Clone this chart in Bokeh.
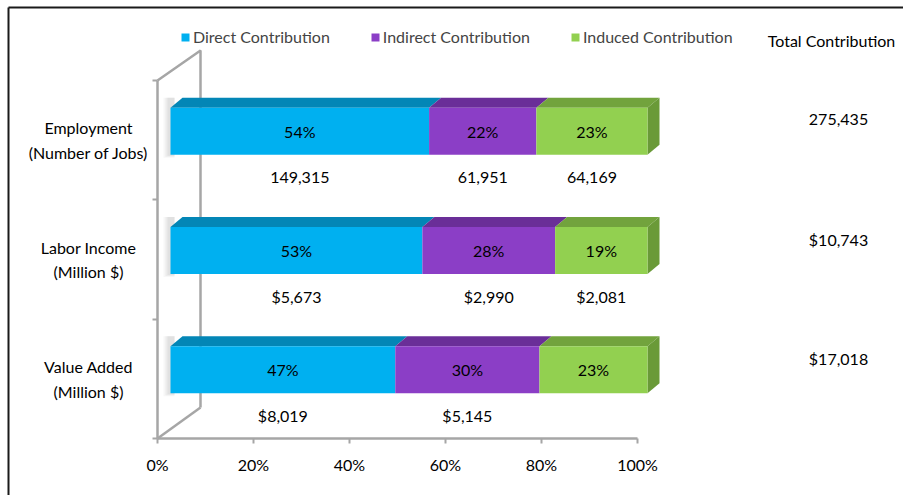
from bokeh.plotting import figure
from bokeh.models import (Range1d, LinearAxis, FixedTicker, Legend, LegendItem,
                          NumeralTickFormatter)
from bokeh.core.properties import value
from bokeh.embed import file_html
from bokeh.resources import INLINE

# ---------------- data ----------------
categories = ["Employment\n(Number of Jobs)", "Labor Income\n(Million $)", "Value Added\n(Million $)"]
series = ["Direct Contribution", "Indirect Contribution", "Induced Contribution"]
direct = [149315, 5673, 8019]
indirect = [61951, 2990, 5145]
induced = [64169, 2081, 3854]
direct_labels = ["149,315", "$5,673", "$8,019"]
indirect_labels = ["61,951", "$2,990", "$5,145"]
induced_labels = ["64,169", "$2,081", ""]
total_labels = ["275,435", "$10,743", "$17,018"]
total_header = "Total Contribution"
x_ticks = [0, 0.2, 0.4, 0.6, 0.8, 1.0]

# ---------------- styles ----------------
FONT = "Lato"
FS = "16px"
W, H = 903, 495
X0, SX = 157, 480.0        # pixel of 0% and pixels per 100%
Y0, SY = 438, 119.33       # pixel of band bottom and pixels per category band
front_col = ["#00B0F0", "#8B3EC6", "#92D050"]
top_col = ["#0386B6", "#6A2E98", "#72A33D"]
side_col = ["#0386B6", "#6A2E98", "#6A9A38"]
GRAY = "#A6A6A6"

def px(xp):
    return (xp - X0) / SX

def py(yp):
    return (Y0 - yp) / SY

p = figure(width=W, height=H, output_backend="svg", toolbar_location=None,
           x_range=Range1d(px(0), px(W)), y_range=Range1d(py(H), py(0)),
           min_border=0, x_axis_type=None, y_axis_type=None)
p.outline_line_color = None
p.xgrid.visible = False
p.ygrid.visible = False
p.background_fill_color = "white"
p.border_fill_color = "white"

# ---------- axes ----------
xa = LinearAxis(ticker=FixedTicker(ticks=x_ticks), formatter=NumeralTickFormatter(format="0%"))
xa.fixed_location = 0
xa.bounds = (0, 1)
ya = LinearAxis(ticker=FixedTicker(ticks=[0, 1, 2, 3]))
ya.fixed_location = 0
ya.bounds = (0, 3)
ya.major_label_overrides = {0: "", 1: "", 2: "", 3: ""}
for ax in (xa, ya):
    ax.axis_line_color = GRAY
    ax.axis_line_width = 2.5
    ax.major_tick_line_color = GRAY
    ax.major_tick_line_width = 2
    ax.major_tick_in = 0
    ax.major_tick_out = 5
    ax.minor_tick_line_color = None
    ax.major_label_text_font = FONT
    ax.major_label_text_font_size = FS
    ax.major_label_text_color = "black"
xa.major_label_standoff = 11
p.add_layout(xa, "below")
p.add_layout(ya, "left")

# ---------- side wall ----------
wall_dx = px(200) - px(157)
wall_top = py(50)
wall_bot = py(407)
p.line([0, wall_dx, wall_dx], [3, wall_top, wall_bot], line_color=GRAY, line_width=2.5)
p.line([0, wall_dx], [0, wall_bot], line_color=GRAY, line_width=2.5)

# ---------- frame border (top + left) ----------
p.segment(x0=[px(8), px(8)], y0=[py(7), py(7)], x1=[px(W + 5), px(8)], y1=[py(7), py(H + 5)],
          line_color="#1A1A1A", line_width=2)

# ---------- 3D bars ----------
OFF = px(170)             # front face offset
SC = 477 / 480            # front face scale
DX = 12 / SX              # depth offset x
DY = 10 / SY              # depth offset y
HALF = 23.5 / SY          # half height of front face
LIFT = 9 / SY             # front centre above band centre

vals = [direct, indirect, induced]
labels = [direct_labels, indirect_labels, induced_labels]
n = len(categories)
band_c = [n - i - 0.5 for i in range(n)]
totals = [sum(v[i] for v in vals) for i in range(n)]

# soft shadow at the bar's back-left end
for i in range(n):
    yc = band_c[i] + LIFT
    for k, a in enumerate([0.12, 0.18, 0.25]):
        p.quad(left=[OFF - (7 - 2 * k) / SX], right=[OFF + 4 / SX],
               bottom=[yc - HALF - (3 - k) / SY], top=[yc + HALF + DY],
               fill_color="#BFBFBF", fill_alpha=a, line_color=None)

legend_items = []
for j in range(3):
    lefts, rights, bots, tops = [], [], [], []
    txs, tys, pcts = [], [], []
    vxs, vys, vls = [], [], []
    top_xs, top_ys = [], []
    for i in range(n):
        start = sum(vals[k][i] for k in range(j)) / totals[i]
        end = start + vals[j][i] / totals[i]
        l = OFF + start * SC
        r = OFF + end * SC
        yc = band_c[i] + LIFT
        b, t = yc - HALF, yc + HALF
        lefts.append(l); rights.append(r); bots.append(b); tops.append(t)
        top_xs.append([l, l + DX, r + DX, r])
        top_ys.append([t, t + DY, t + DY, t])
        txs.append((l + r) / 2); tys.append(yc)
        pcts.append(f"{round(100 * vals[j][i] / totals[i])}%")
        if labels[j][i]:
            vxs.append((l + r) / 2); vys.append(b - 22.5 / SY); vls.append(labels[j][i])
    p.patches(top_xs, top_ys, fill_color=top_col[j], line_color=None)
    if j == 2:
        side_xs = [[r, r + DX, r + DX, r] for r in rights]
        side_ys = [[b, b + DY, t + DY, t] for b, t in zip(bots, tops)]
        p.patches(side_xs, side_ys, fill_color=side_col[j], line_color=None)
    rend = p.quad(left=lefts, right=rights, bottom=bots, top=tops,
                  fill_color=front_col[j], line_color=None)
    legend_items.append(LegendItem(label=series[j], renderers=[rend]))
    p.text(txs, tys, text=pcts, text_font=value(FONT), text_font_size=FS,
           text_align="center", text_baseline="middle", text_color="black")
    p.text(vxs, vys, text=vls, text_font=value(FONT), text_font_size=FS,
           text_align="center", text_baseline="middle", text_color="black")

# ---------- category labels ----------
p.text([px(88)] * n, band_c, text=categories, text_font=value(FONT), text_font_size=FS,
       text_align="center", text_baseline="middle", text_line_height=1.3, text_color="black")

# ---------- total column ----------
p.text([px(838)] * n, [c + 0.17 for c in band_c], text=total_labels, text_font=value(FONT),
       text_font_size=FS, text_align="center", text_baseline="middle", text_color="black")
p.text([px(831)], [py(40)], text=[total_header], text_font=value(FONT), text_font_size=FS,
       text_align="center", text_baseline="middle", text_color="black")

# ---------- legend ----------
legend = Legend(items=legend_items, orientation="horizontal", location=(180, 449),
                label_text_font=FONT, label_text_font_size=FS, glyph_width=10,
                glyph_height=10, label_standoff=3, spacing=40, padding=0, margin=0,
                border_line_color=None, background_fill_alpha=0, label_height=16)
p.add_layout(legend)

open("out.html", "w").write(file_html(p, INLINE))
